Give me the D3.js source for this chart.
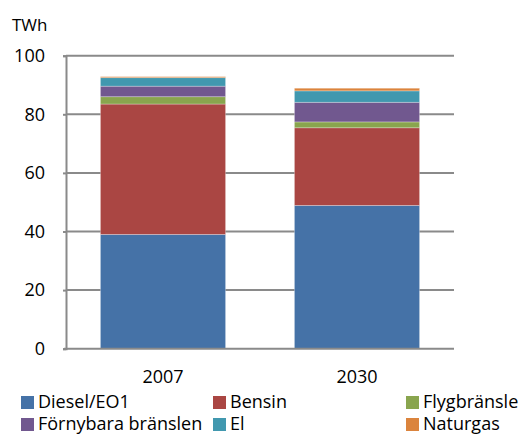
<!DOCTYPE html>
<html>
<head>
<meta charset="utf-8">
<script src="https://cdn.jsdelivr.net/npm/d3@7"></script>
<style>
  body { margin: 0; background: #fff; }
  text { font-family: "Open Sans", "Noto Sans", sans-serif; fill: #000; }
</style>
</head>
<body>
<div class="chart"></div>
<script>
// data
var years = ['2007', '2030'];
var seriesNames = ['Diesel/EO1', 'Bensin', 'Flygbränsle', 'Förnybara bränslen', 'El', 'Naturgas'];
var diesel = [39.0, 48.9];
var bensin = [44.5, 26.5];
var flyg = [2.5, 2.0];
var fornybara = [3.6, 6.7];
var el = [2.9, 3.9];
var naturgas = [0.35, 0.9];
var yTicks = [0, 20, 40, 60, 80, 100];
var colors = ['#4572A7', '#AA4643', '#89A54E', '#71588F', '#4198AF', '#DB843D'];

var width = 524, height = 435;
var plot = {left: 66, right: 454, top: 55.7, bottom: 348.7};

var svg = d3.select('.chart')
  .append('svg')
  .attr('width', width)
  .attr('height', height);

// build rows for the stack
var rows = years.map((y, i) => ({
  year: y,
  'Diesel/EO1': diesel[i],
  'Bensin': bensin[i],
  'Flygbränsle': flyg[i],
  'Förnybara bränslen': fornybara[i],
  'El': el[i],
  'Naturgas': naturgas[i]
}));
var stacked = d3.stack().keys(seriesNames)(rows);

var xScale = d3.scaleBand()
  .domain(years)
  .range([plot.left, plot.right])
  .paddingInner(0.55 / 1.55)
  .paddingOuter(0.55 / 1.55 / 2);

var yScale = d3.scaleLinear()
  .domain([0, 100])
  .range([plot.bottom, plot.top]);

// gridlines
svg.append('g')
  .selectAll('line')
  .data(yTicks.filter(d => d > 0))
  .enter()
  .append('line')
  .attr('x1', plot.left)
  .attr('x2', plot.right)
  .attr('y1', d => yScale(d))
  .attr('y2', d => yScale(d))
  .attr('stroke', '#8a8a8a')
  .attr('stroke-width', 2);

// bars
svg.append('g')
  .selectAll('g')
  .data(stacked)
  .enter()
  .append('g')
  .attr('fill', (d, i) => colors[i])
  .selectAll('rect')
  .data(d => d)
  .enter()
  .append('rect')
  .attr('x', d => xScale(d.data.year))
  .attr('y', d => yScale(d[1]))
  .attr('width', xScale.bandwidth())
  .attr('height', d => yScale(d[0]) - yScale(d[1]))
  .attr('stroke', 'rgba(255,255,255,0.35)')
  .attr('stroke-width', 0.8);

// axes
var yAxis = d3.axisLeft(yScale)
  .tickValues(yTicks)
  .tickSize(3)
  .tickPadding(18);

var gy = svg.append('g')
  .attr('transform', 'translate(' + plot.left + ', 0)')
  .call(yAxis);
gy.selectAll('line').attr('stroke', '#8a8a8a').attr('stroke-width', 2);
gy.select('.domain').attr('stroke', '#8a8a8a').attr('stroke-width', 2);
gy.selectAll('text').style('font-size', '18px').attr('fill', '#000');

var xAxis = d3.axisBottom(xScale)
  .tickSize(0)
  .tickPadding(22);

var gx = svg.append('g')
  .attr('transform', 'translate(0, ' + plot.bottom + ')')
  .call(xAxis);
gx.select('.domain').attr('stroke', '#8a8a8a').attr('stroke-width', 2)
  .attr('d', 'M' + (plot.left - 2) + ',0H' + plot.right);
gx.selectAll('text').style('font-size', '18px').attr('fill', '#000');

// unit label
svg.append('text')
  .attr('x', 12)
  .attr('y', 31)
  .style('font-size', '17px')
  .text('TWh');

// legend
var legendX = [21, 213, 406];
var legendY = [402, 424];
var legend = svg.append('g')
  .selectAll('g')
  .data(seriesNames)
  .enter()
  .append('g')
  .attr('transform', (d, i) => 'translate(' + legendX[i % 3] + ',' + legendY[Math.floor(i / 3)] + ')');

legend.append('rect')
  .attr('x', 0)
  .attr('y', -6)
  .attr('width', 13)
  .attr('height', 13)
  .attr('fill', (d, i) => colors[i]);

legend.append('text')
  .attr('x', 17)
  .attr('y', 0)
  .attr('dy', '0.35em')
  .style('font-size', '18px')
  .text(d => d);
</script>
</body>
</html>
